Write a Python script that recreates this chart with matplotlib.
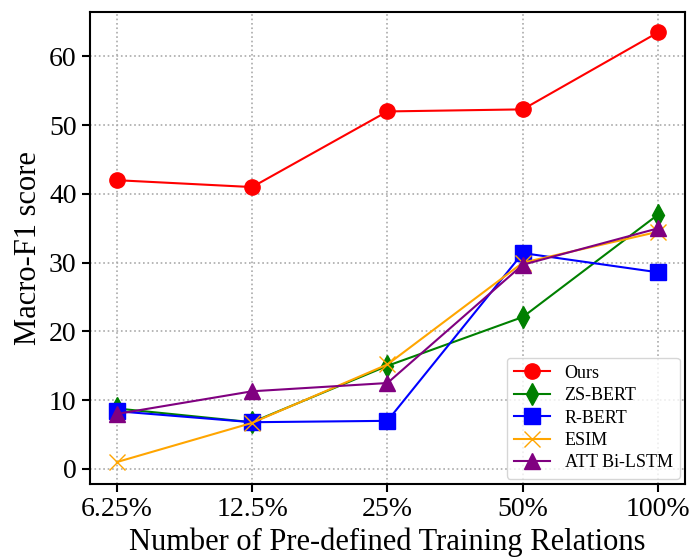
import matplotlib
matplotlib.use('Agg')
import matplotlib.pyplot as plt

plt.rcParams['font.family'] = ['Liberation Serif', 'DejaVu Serif']

x_labels = ['6.25%', '12.5%', '25%', '50%', '100%']
ours = [42.0, 41.0, 52.0, 52.3, 63.5]
zs_bert = [8.8, 6.8, 15.0, 22.1, 37.0]
r_bert = [8.4, 6.8, 7.0, 31.4, 28.6]
esim = [1.0, 6.7, 15.2, 30.0, 34.5]
att_bilstm = [8.0, 11.3, 12.5, 29.7, 35.0]

series = [
	('Ours', ours, 'red', 'o'),
	('ZS-BERT', zs_bert, 'green', 'd'),
	('R-BERT', r_bert, 'blue', 's'),
	('ESIM', esim, 'orange', 'x'),
	('ATT Bi-LSTM', att_bilstm, 'purple', '^'),
]

fig = plt.figure(figsize=(6.9, 5.59), dpi=100)
ax = fig.add_axes([0.13, 0.134, 0.863, 0.845])

xs = list(range(len(x_labels)))
for name, vals, color, marker in series:
	ax.plot(xs, vals, marker=marker, color=color, label=name, markersize=11, linewidth=1.5)

ax.set_xticks(xs)
ax.set_xticklabels(x_labels)
ax.set_xlim(-0.2, 4.2)
ax.set_ylim(-2.2, 66.5)
ax.set_yticks([0, 10, 20, 30, 40, 50, 60])
ax.tick_params(labelsize=20, length=6, width=1.5)
ax.grid(linestyle=':', color='#aaaaaa', linewidth=1.2)
for s in ax.spines.values():
	s.set_linewidth(1.5)

ax.set_xlabel('Number of Pre-defined Training Relations', fontsize=22)
ax.set_ylabel('Macro-F1 score', fontsize=22)

ax.legend(loc='lower right', fontsize=13, handlelength=2, labelspacing=0.3,
	borderaxespad=0.3)

fig.savefig('out.png', dpi=100)
